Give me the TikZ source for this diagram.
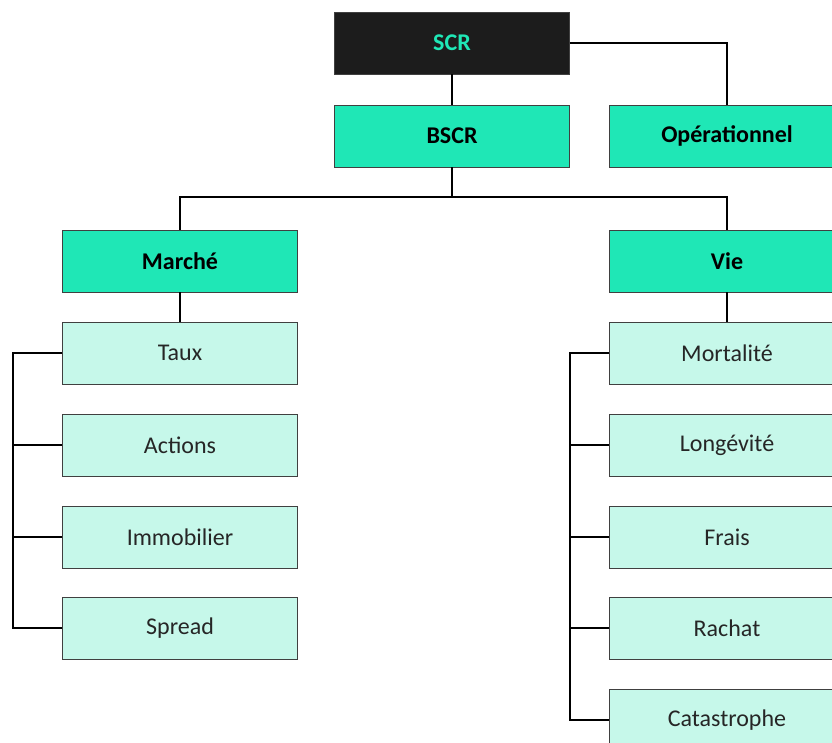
\documentclass[tikz,border=0pt]{standalone}
\usepackage{fontspec}
\setmainfont{Carlito}
\usetikzlibrary{positioning,calc}
\definecolor{vert}{HTML}{1FE7B6}
\definecolor{vertclair}{HTML}{C6F8EA}
\definecolor{noir}{HTML}{1C1C1C}
\tikzset{
  boite/.style={draw=black!75, line width=.8pt, minimum width=235pt, minimum height=62pt, inner sep=0pt, text=black!85, font=\fontsize{24}{28}\selectfont},
  tete/.style={boite, fill=vert, text=black, font=\fontsize{24}{28}\selectfont\bfseries},
  feuille/.style={boite, fill=vertclair},
  gros/.style={line width=2.6pt},
  fin/.style={line width=1.6pt}
}
\begin{document}
\begin{tikzpicture}[x=1pt,y=-1pt]
\useasboundingbox (0,0) rectangle (832,742);
\clip (0,0) rectangle (832,742);
% haut
\node[boite, fill=noir, text=vert, font=\fontsize{24}{28}\selectfont\bfseries] (scr) at (452,43) {SCR};
\node[tete] (bscr) at (452,136) {BSCR};
\node[tete] (op) at (727,136) {Opérationnel};
\node[tete] (marche) at (180,261) {Marché};
\node[tete] (vie) at (727,261) {Vie};
\coordinate (bus) at (452,197);
\coordinate (lbus) at (13,0);
\coordinate (rbus) at (570,0);
% feuilles
\foreach \nom/\txt/\y in {taux/Taux/353, actions/Actions/445, immo/Immobilier/537, spread/Spread/628}
  \node[feuille] (\nom) at (180,\y) {\txt};
\foreach \nom/\txt/\y in {mort/Mortalité/353, longe/Longévité/445, frais/Frais/537, rachat/Rachat/628, cata/Catastrophe/720}
  \node[feuille] (\nom) at (727,\y) {\txt};
% liens
\draw[gros] (scr.south) -- (bscr.north);
\draw[gros] (scr.east) -| (op.north);
\draw[gros] (bscr.south) -- (bus);
\draw[gros] (marche.north) |- (bus) -| (vie.north);
\draw[fin] (marche.south) -- (taux.north);
\draw[fin] (vie.south) -- (mort.north);
\draw[fin] (taux.west) -| (lbus |- spread.west) -- (spread.west);
\draw[fin] (actions.west) -- (lbus |- actions.west);
\draw[fin] (immo.west) -- (lbus |- immo.west);
\draw[fin] (mort.west) -| (rbus |- cata.west) -- (cata.west);
\draw[fin] (longe.west) -- (rbus |- longe.west);
\draw[fin] (frais.west) -- (rbus |- frais.west);
\draw[fin] (rachat.west) -- (rbus |- rachat.west);
\end{tikzpicture}
\end{document}
